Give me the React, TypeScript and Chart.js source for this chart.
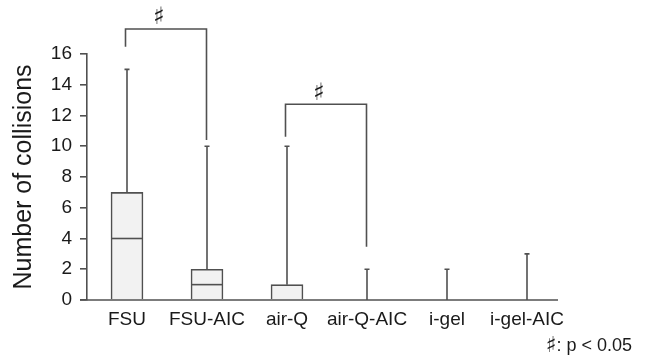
import React, { useEffect, useRef } from "react";
import { Chart, registerables } from "chart.js";

Chart.register(...registerables);

const categories = ["FSU", "FSU-AIC", "air-Q", "air-Q-AIC", "i-gel", "i-gel-AIC"];
const mins = [0, 0, 0, 0, 0, 0];
const q1s = [0, 0, 0, 0, 0, 0];
const medians = [4, 1, 0, 0, 0, 0];
const q3s = [7, 2, 1, 0, 0, 0];
const maxs = [15, 10, 10, 2, 2, 3];
const yTicks = [0, 2, 4, 6, 8, 10, 12, 14, 16];

// significance brackets: [fromIndex, toIndex, level, leftLegEnd, rightLegEnd]
const bracketFrom = [0, 2];
const bracketTo = [1, 3];
const bracketLevel = [17.63, 12.73];
const bracketLeftEnd = [16.47, 10.62];
const bracketRightEnd = [10.4, 3.47];
const bracketLabel = "\u266F";
const footnoteSymbol = "\u266F";
const footnoteText = ": p < 0.05";

const FONT = "'Liberation Sans', Arial, Helvetica, sans-serif";
const LINE = "#505050";
const TEXT = "#1a1a1a";

const boxPlugin = {
  id: "boxExtras",
  afterDatasetsDraw(chart: any) {
    const { ctx, scales } = chart;
    const x = scales.x;
    const y = scales.y;
    const meta = chart.getDatasetMeta(0);
    const half = 16;
    ctx.save();
    ctx.strokeStyle = LINE;
    ctx.lineWidth = 1.6;
    categories.forEach((_, i) => {
      const cx = x.getPixelForValue(i);
      const yTop = y.getPixelForValue(maxs[i]);
      const yQ3 = y.getPixelForValue(q3s[i]);
      ctx.beginPath();
      ctx.moveTo(cx, yQ3);
      ctx.lineTo(cx, yTop);
      ctx.moveTo(cx - 2.5, yTop);
      ctx.lineTo(cx + 2.5, yTop);
      ctx.stroke();
      if (mins[i] < q1s[i]) {
        const yMin = y.getPixelForValue(mins[i]);
        const yQ1 = y.getPixelForValue(q1s[i]);
        ctx.beginPath();
        ctx.moveTo(cx, yQ1);
        ctx.lineTo(cx, yMin);
        ctx.moveTo(cx - 2.5, yMin);
        ctx.lineTo(cx + 2.5, yMin);
        ctx.stroke();
      }
      if (q3s[i] > q1s[i] && medians[i] > q1s[i]) {
        const el = meta.data[i];
        const w = el && el.width ? el.width / 2 : half;
        const ym = y.getPixelForValue(medians[i]);
        ctx.beginPath();
        ctx.moveTo(cx - w, ym);
        ctx.lineTo(cx + w, ym);
        ctx.stroke();
      }
    });
    // x axis line
    const lastX = x.getPixelForValue(categories.length - 1);
    const y0 = y.getPixelForValue(0);
    ctx.beginPath();
    ctx.moveTo(chart.chartArea.left - 7, y0);
    ctx.lineTo(lastX + 31, y0);
    ctx.stroke();

    // brackets
    bracketFrom.forEach((f, k) => {
      const x1 = x.getPixelForValue(f) - 1.5;
      const x2 = x.getPixelForValue(bracketTo[k]) - 0.5;
      const yl = y.getPixelForValue(bracketLevel[k]);
      const y1 = y.getPixelForValue(bracketLeftEnd[k]);
      const y2 = y.getPixelForValue(bracketRightEnd[k]);
      ctx.beginPath();
      ctx.moveTo(x1, y1);
      ctx.lineTo(x1, yl);
      ctx.lineTo(x2, yl);
      ctx.lineTo(x2, y2);
      ctx.stroke();
      ctx.fillStyle = TEXT;
      ctx.font = `24px 'DejaVu Sans', ${FONT}`;
      ctx.textAlign = "center";
      ctx.textBaseline = "middle";
      ctx.fillText(bracketLabel, (x1 + x2) / 2 - 7, yl - 11);
    });

    // footnote
    ctx.fillStyle = TEXT;
    ctx.textBaseline = "middle";
    ctx.textAlign = "right";
    ctx.font = `18px ${FONT}`;
    const right = chart.width - 13;
    const fy = chart.height - 16;
    ctx.fillText(footnoteText, right, fy);
    const tw = ctx.measureText(footnoteText).width;
    ctx.font = `22px 'DejaVu Sans', ${FONT}`;
    ctx.fillText(footnoteSymbol, right - tw, fy);
    ctx.restore();
  },
};

export default function App() {
  const ref = useRef<HTMLCanvasElement>(null);
  useEffect(() => {
    if (!ref.current) return;
    const chart = new Chart(ref.current, {
      type: "bar",
      data: {
        labels: categories,
        datasets: [
          {
            data: categories.map((_, i) => (q3s[i] > q1s[i] ? [q1s[i], q3s[i]] : null)) as any,
            backgroundColor: "#f2f2f2",
            borderColor: LINE,
            borderWidth: { top: 1.6, left: 1.6, right: 1.6, bottom: 0 },
            borderSkipped: false,
            barThickness: 32,
          },
        ],
      },
      options: {
        animation: false,
        responsive: false,
        maintainAspectRatio: false,
        layout: { padding: { top: 54, right: 78, bottom: 0, left: 0 } },
        plugins: { legend: { display: false }, tooltip: { enabled: false } },
        scales: {
          x: {
            type: "category",
            offset: true,
            grid: { display: false, drawTicks: false },
            border: { display: false },
            ticks: { color: TEXT, font: { family: FONT, size: 19 }, padding: 8, maxRotation: 0, autoSkip: false },
            afterFit: (s: any) => {
              s.height = 62;
            },
          },
          y: {
            min: 0,
            max: 16,
            afterBuildTicks: (s: any) => {
              s.ticks = yTicks.map((v) => ({ value: v }));
            },
            grid: { display: true, drawOnChartArea: false, drawTicks: true, tickLength: 7, color: LINE, lineWidth: 1.6 },
            border: { display: true, color: LINE, width: 1.6 },
            ticks: { color: TEXT, font: { family: FONT, size: 19 }, padding: 8 },
            title: {
              display: true,
              text: "Number of collisions",
              color: TEXT,
              font: { family: FONT, size: 25 },
              padding: { top: 9, bottom: 0 },
            },
            afterFit: (s: any) => {
              s.width = 87;
            },
          },
        },
      },
      plugins: [boxPlugin],
    });
    return () => chart.destroy();
  }, []);
  return (
    <div style={{ position: "fixed", left: 0, top: 0, width: 645, height: 362, background: "#fff" }}>
      <canvas ref={ref} width={645} height={362} style={{ display: "block", width: 645, height: 362 }} />
    </div>
  );
}
